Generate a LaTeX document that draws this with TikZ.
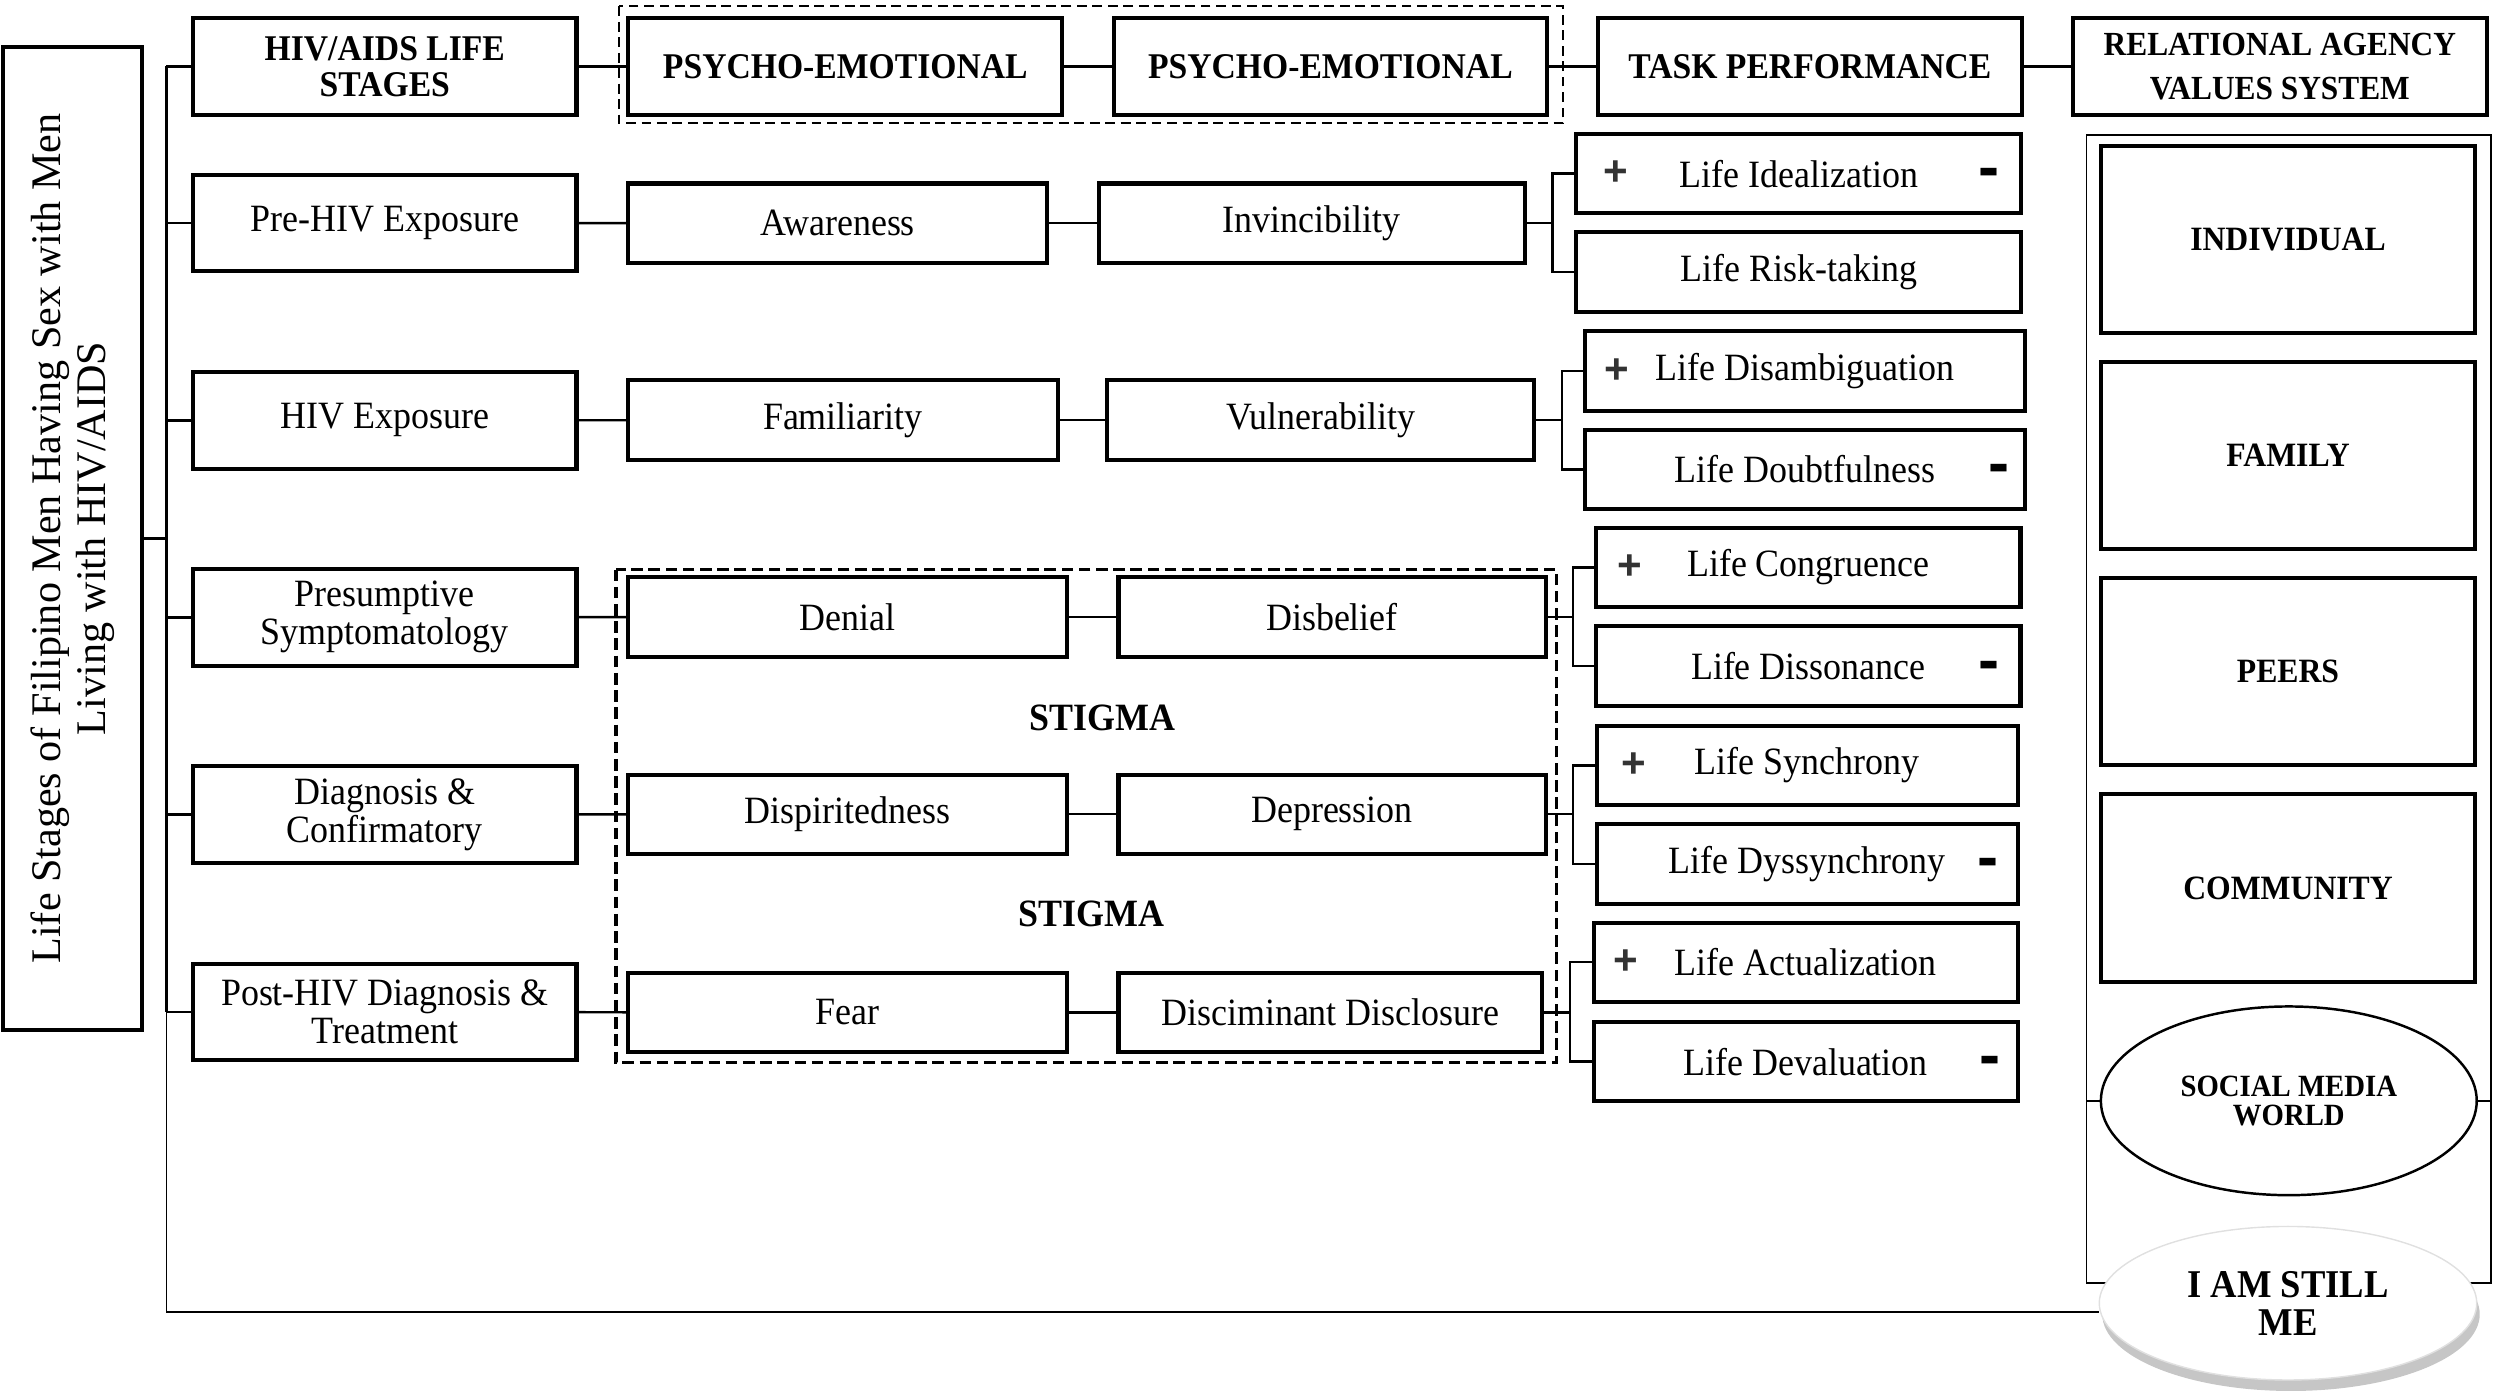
\documentclass[tikz,border=0pt]{standalone}
\usepackage{fontspec}
\setmainfont{Liberation Serif}[FakeStretch=0.93]
\setsansfont{Liberation Sans}
\newfontfamily\titlefont{Liberation Serif}
\usetikzlibrary{shapes.geometric,shadows}

\begin{document}
\begin{tikzpicture}[x=0.016cm, y=-0.016cm,
  box/.style={draw, line width=1.15pt, inner sep=1pt, align=center, font=\fontsize{11}{10.8}\selectfont},
  headbox/.style={box, minimum height=0.976cm, font=\bfseries\fontsize{10.3}{10.2}\selectfont},
  stagebox/.style={box, minimum width=3.835cm, minimum height=0.968cm},
  emobox/.style={box, minimum height=0.795cm},
  taskbox/.style={box, minimum height=0.795cm},
  valbox/.style={box, minimum width=3.744cm, minimum height=1.872cm, font=\bfseries\fontsize{9.7}{11}\selectfont},
  link/.style={line width=0.7pt},
  thinlink/.style={line width=0.5pt},
  dashbox/.style={line width=0.9pt, dash pattern=on 3.3pt off 1.6pt},
  thindash/.style={line width=0.6pt, dash pattern=on 2.8pt off 1.6pt},
  plus/.style={inner sep=0pt, text=black!80, font=\sffamily\bfseries\fontsize{12}{12}\selectfont},
  minus/.style={inner sep=0pt, yshift=-0.5mm, font=\sffamily\bfseries\fontsize{18}{18}\selectfont},
  stigma/.style={inner sep=0pt, font=\bfseries\fontsize{11}{11}\selectfont}
]
\useasboundingbox (0,0) rectangle (1562.5,873.1);

% dashed groups
\draw[thindash] (387,4) rectangle (977,77);
\draw[dashbox] (385,356) rectangle (973,664);

% title
\node[box, rotate=90, inner sep=0pt, minimum width=9.84cm, minimum height=1.392cm,
      font=\titlefont\fontsize{12}{12.8}\selectfont] (title) at (45.5,336.5)
      {Life Stages of Filipino Men Having Sex with Men\\Living with HIV/AIDS};

% header row
\node[headbox, minimum width=3.835cm] (stages) at (240.5,41.5) {HIV/AIDS LIFE\\STAGES};
\node[headbox, minimum width=4.344cm] (psyA) at (528.3,41.5) {PSYCHO-EMOTIONAL};
\node[headbox, minimum width=4.336cm] (psyB) at (831.5,41.5) {PSYCHO-EMOTIONAL};
\node[headbox, minimum width=4.248cm] (task) at (1131.2,41.5) {TASK PERFORMANCE};
\node[headbox, minimum width=4.144cm, font=\bfseries\fontsize{9.6}{12.7}\selectfont] (relag) at (1424.9,41.5) {RELATIONAL AGENCY\\VALUES SYSTEM};

% life stages
\node[stagebox] (pre) at (240.5,139.4) {Pre-HIV Exposure};
\node[stagebox] (expo) at (240.5,262.7) {HIV Exposure};
\node[stagebox] (presu) at (240.5,385.8) {Presumptive\\Symptomatology};
\node[stagebox] (diag) at (240.5,509) {Diagnosis \&\\Confirmatory};
\node[stagebox] (post) at (240.5,632.5) {Post-HIV Diagnosis \&\\Treatment};

% psycho-emotional, first column
\node[emobox, minimum width=4.195cm] (aware) at (523.6,139.5) {Awareness};
\node[emobox, minimum width=4.296cm] (famil) at (526.8,262.6) {Familiarity};
\node[emobox, minimum width=4.392cm] (denial) at (529.8,385.6) {Denial};
\node[emobox, minimum width=4.392cm] (dispir) at (529.8,508.9) {Dispiritedness};
\node[emobox, minimum width=4.392cm] (fear) at (529.8,632.8) {Fear};

% psycho-emotional, second column
\node[emobox, minimum width=4.262cm] (invin) at (819.8,139.5) {Invincibility};
\node[emobox, minimum width=4.272cm] (vulner) at (825.5,262.6) {Vulnerability};
\node[emobox, minimum width=4.272cm] (disbel) at (832.5,385.6) {Disbelief};
\node[emobox, minimum width=4.272cm] (depres) at (832.5,508.9) {Depression};
\node[emobox, minimum width=4.24cm] (discl) at (831.5,632.8) {Disciminant Disclosure};

\node[stigma] (stigA) at (689,448.6) {STIGMA};
\node[stigma] (stigB) at (682,571) {STIGMA};

% task performance
\node[taskbox, minimum width=4.451cm] (t1a) at (1124.3,108.5) {Life Idealization};
\node[taskbox, minimum width=4.451cm] (t1b) at (1124.3,169.9) {Life Risk-taking};
\node[taskbox, minimum width=4.397cm] (t2a) at (1128.2,231.9) {Life Disambiguation};
\node[taskbox, minimum width=4.397cm] (t2b) at (1128.2,293.4) {Life Doubtfulness};
\node[taskbox, minimum width=4.245cm] (t3a) at (1130.2,354.6) {Life Congruence};
\node[taskbox, minimum width=4.245cm] (t3b) at (1130.2,416.2) {Life Dissonance};
\node[taskbox, minimum width=4.208cm] (t4a) at (1129.5,478.4) {Life Synchrony};
\node[taskbox, minimum width=4.208cm] (t4b) at (1129.5,539.9) {Life Dyssynchrony};
\node[taskbox, minimum width=4.24cm] (t5a) at (1128.5,601.4) {Life Actualization};
\node[taskbox, minimum width=4.24cm] (t5b) at (1128.5,663.5) {Life Devaluation};

\node[plus] (p1) at ([xshift=0.413cm]t1a.west) {+};
\node[minus] (m1) at ([xshift=-0.342cm]t1a.east) {-};
\node[plus] (p2) at ([xshift=0.336cm]t2a.west) {+};
\node[minus] (m2) at ([xshift=-0.282cm]t2b.east) {-};
\node[plus] (p3) at ([xshift=0.36cm]t3a.west) {+};
\node[minus] (m3) at ([xshift=-0.339cm]t3b.east) {-};
\node[plus] (p4) at ([xshift=0.39cm]t4a.west) {+};
\node[minus] (m4) at ([xshift=-0.32cm]t4b.east) {-};
\node[plus] (p5) at ([xshift=0.342cm]t5a.west) {+};
\node[minus] (m5) at ([xshift=-0.294cm]t5b.east) {-};

% relational agency values
\coordinate (fr1) at (1304,84.5);
\coordinate (fr2) at (1557,802);
\draw[thinlink] (fr1) rectangle (fr2);
\node[valbox] (indiv) at (1430,149.5) {INDIVIDUAL};
\node[valbox] (family) at (1430,284.5) {FAMILY};
\node[valbox] (peers) at (1430,419.5) {PEERS};
\node[valbox] (commu) at (1430,555) {COMMUNITY};
\node[draw, ellipse, line width=0.7pt, inner sep=0pt, minimum width=3.76cm, minimum height=1.888cm,
      align=center, font=\bfseries\fontsize{8.8}{8.4}\selectfont] (social) at (1430.5,688) {SOCIAL MEDIA\\WORLD};
\draw[link] (social.west) -- (social.west -| fr1);
\draw[link] (social.east) -- (social.east -| fr2);

% trunk and connectors
\coordinate (tk) at (104,41.5);
\coordinate (tkb) at (104,820);
\draw[link] (tk) -- (tk |- post.west);
\draw[thinlink] (tk |- post.west) -- (tkb) -- (tkb -| 1312,0);
\draw[link] (title) -- (title -| tk);
\draw[link] (tk) -- (stages);
\draw[link] (pre.west -| tk) -- (pre);
\draw[link] (expo.west -| tk) -- (expo);
\draw[link] (presu.west -| tk) -- (presu);
\draw[link] (diag.west -| tk) -- (diag);
\draw[link] (post.west -| tk) -- (post);

\draw[link] (stages) -- (psyA);
\draw[link] (psyA) -- (psyB);
\draw[link] (psyB) -- (task);
\draw[link] (task) -- (relag);

\draw[link] (pre) -- (aware);
\draw[link] (aware) -- (invin);
\draw[link] (expo) -- (famil);
\draw[link] (famil) -- (vulner);
\draw[link] (presu) -- (denial);
\draw[link] (denial) -- (disbel);
\draw[link] (diag) -- (dispir);
\draw[link] (dispir) -- (depres);
\draw[link] (post) -- (fear);
\draw[link] (fear) -- (discl);

% forks to task performance
\draw[link] (invin.east) -- ++(16,0) coordinate (f1);
\draw[link] (t1a.west) -| (f1) |- (t1b.west);
\draw[link] (vulner.east) -- ++(16,0) coordinate (f2);
\draw[link] (t2a.west) -| (f2) |- (t2b.west);
\draw[link] (disbel.east) -- ++(16,0) coordinate (f3);
\draw[link] (t3a.west) -| (f3) |- (t3b.west);
\draw[link] (depres.east) -- ++(16,0) coordinate (f4);
\draw[link] (t4a.west) -| (f4) |- (t4b.west);
\draw[link] (discl.east) -- ++(16,0) coordinate (f5);
\draw[link] (t5a.west) -| (f5) |- (t5b.west);

\node[ellipse, fill=white, draw=black!12, line width=0.4pt, inner sep=0pt, minimum width=3.776cm, minimum height=1.536cm,
      drop shadow={shadow xshift=0.3mm, shadow yshift=-1.1mm, opacity=0.45},
      align=center, font=\bfseries\fontsize{11.2}{10.9}\selectfont] (still) at (1430,814.5) {I AM STILL\\ME};
\end{tikzpicture}
\end{document}
